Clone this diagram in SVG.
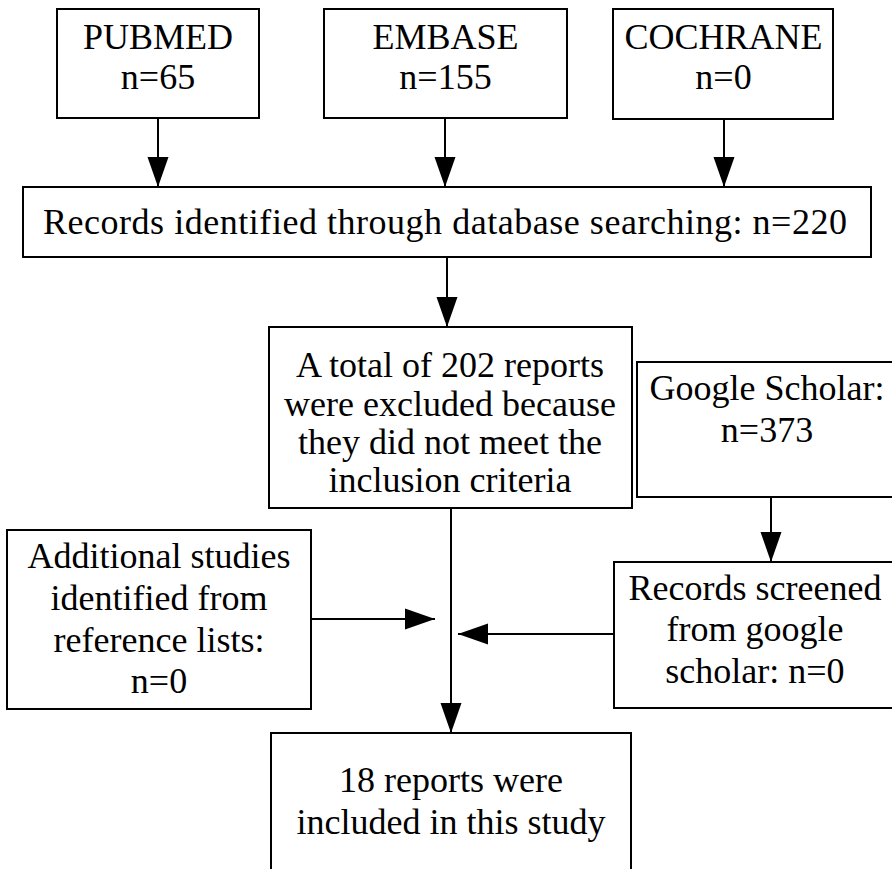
<svg xmlns="http://www.w3.org/2000/svg" width="892" height="869" viewBox="0 0 892 869">
<style>
.box{fill:#fff;stroke:#000;stroke-width:2}
.t{font-family:"Liberation Serif","Times New Roman",serif;font-size:36px;fill:#000;text-anchor:middle}
.edge{stroke:#000;stroke-width:2;fill:none}
</style>
<defs>
<marker id="ah" markerUnits="userSpaceOnUse" markerWidth="30" markerHeight="22" refX="30" refY="11" orient="auto" viewBox="0 0 30 22">
<path d="M0,0.5 L30,11 L0,21.5 z" fill="#000"/>
</marker>
</defs>
<rect width="892" height="869" fill="#fff"/>
<g id="connectors">
<line class="edge" x1="158" y1="118" x2="158" y2="187" marker-end="url(#ah)"/>
<line class="edge" x1="445" y1="118" x2="445" y2="187" marker-end="url(#ah)"/>
<line class="edge" x1="724" y1="119" x2="724" y2="187" marker-end="url(#ah)"/>
<line class="edge" x1="447" y1="257" x2="447" y2="327" marker-end="url(#ah)"/>
<line class="edge" x1="771" y1="497" x2="771" y2="562" marker-end="url(#ah)"/>
<line class="edge" x1="451" y1="508" x2="451" y2="733" marker-end="url(#ah)"/>
<line class="edge" x1="311" y1="619" x2="435" y2="619" marker-end="url(#ah)"/>
<line class="edge" x1="614" y1="634" x2="458" y2="634" marker-end="url(#ah)"/>
</g>
<g id="pubmed">
<rect class="box" x="57" y="9" width="202" height="109"/>
<text class="t" x="158" y="49">PUBMED</text>
<text class="t" x="158" y="89">n=65</text>
</g>
<g id="embase">
<rect class="box" x="324" y="9" width="243" height="109"/>
<text class="t" x="445.5" y="49">EMBASE</text>
<text class="t" x="445.5" y="89">n=155</text>
</g>
<g id="cochrane">
<rect class="box" x="613" y="9" width="220" height="110"/>
<text class="t" x="723.5" y="49">COCHRANE</text>
<text class="t" x="723.5" y="89">n=0</text>
</g>
<g id="records">
<rect class="box" x="23" y="187" width="848" height="70"/>
<text class="t" x="445" y="234" textLength="804" lengthAdjust="spacing">Records identified through database searching: n=220</text>
</g>
<g id="excluded">
<rect class="box" x="269" y="327" width="363" height="181"/>
<text class="t" x="450" y="377">A total of 202 reports</text>
<text class="t" x="450" y="416">were excluded because</text>
<text class="t" x="450" y="454">they did not meet the</text>
<text class="t" x="450" y="492">inclusion criteria</text>
</g>
<g id="google">
<rect class="box" x="637" y="362" width="265" height="135"/>
<text class="t" x="767" y="400">Google Scholar:</text>
<text class="t" x="767" y="442">n=373</text>
</g>
<g id="additional">
<rect class="box" x="7" y="530" width="304" height="179"/>
<text class="t" x="159" y="568">Additional studies</text>
<text class="t" x="159" y="610">identified from</text>
<text class="t" x="159" y="652">reference lists:</text>
<text class="t" x="159" y="693">n=0</text>
</g>
<g id="screened">
<rect class="box" x="614" y="562" width="286" height="146"/>
<text class="t" x="755" y="600">Records screened</text>
<text class="t" x="755" y="641">from google</text>
<text class="t" x="755" y="683">scholar: n=0</text>
</g>
<g id="included">
<rect class="box" x="271" y="733" width="360" height="150"/>
<text class="t" x="451" y="792">18 reports were</text>
<text class="t" x="451" y="834">included in this study</text>
</g>
</svg>
